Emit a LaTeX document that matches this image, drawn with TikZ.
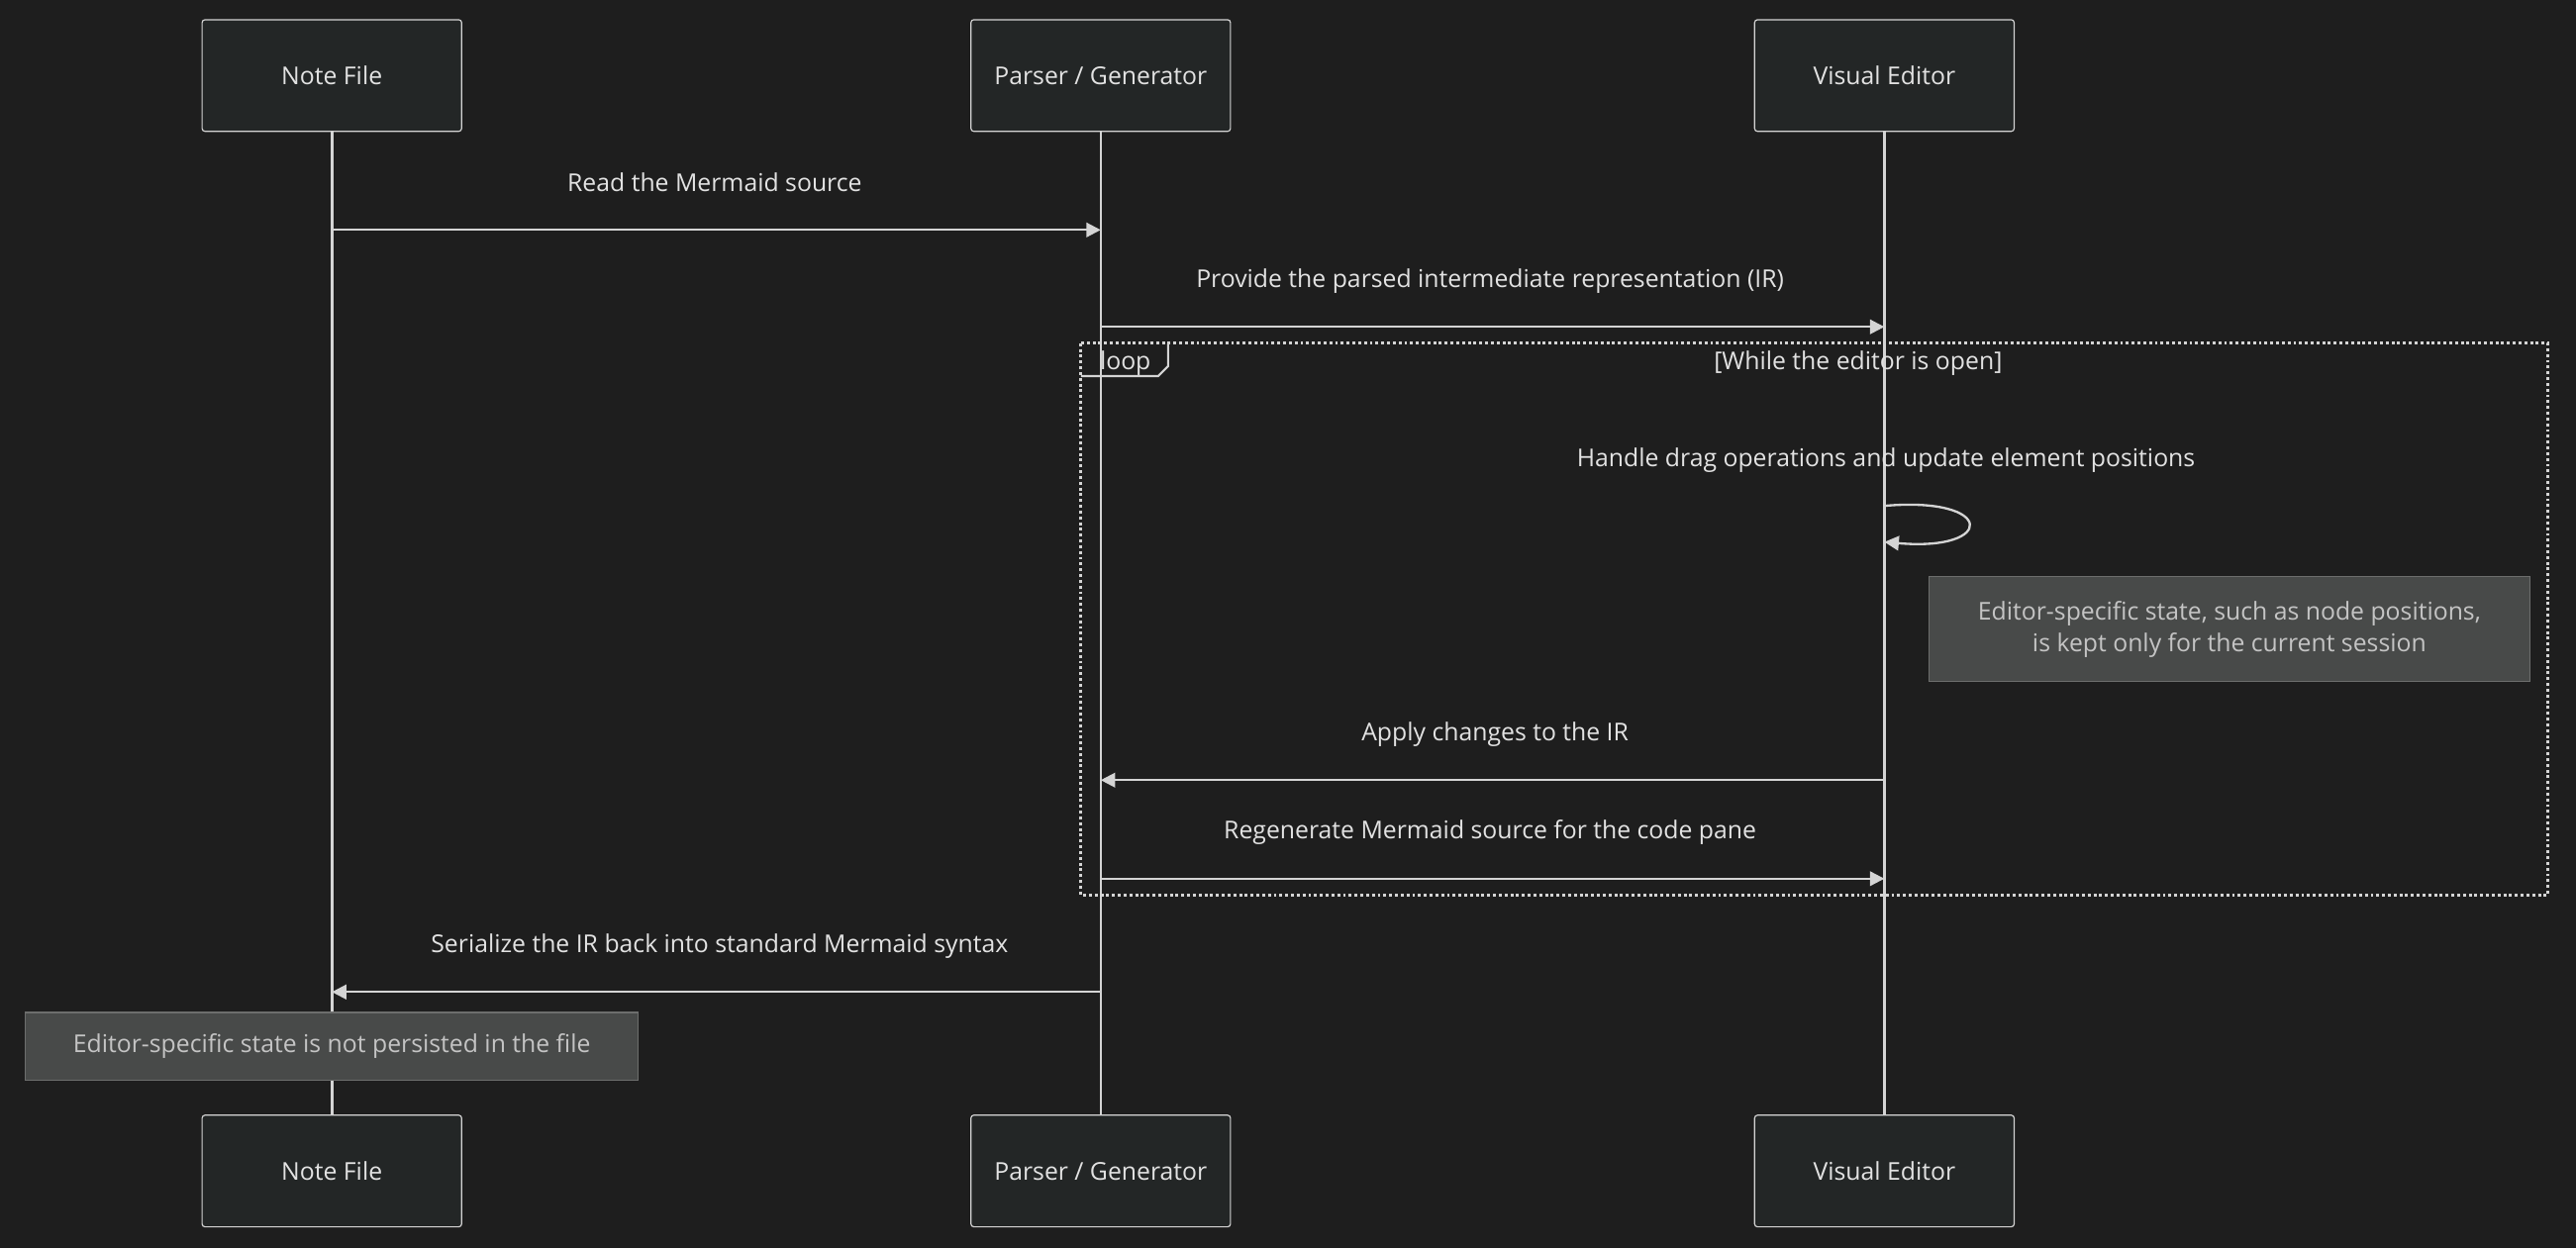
\documentclass[tikz,border=0pt]{standalone}
\usepackage{fontspec}
\setmainfont{Open Sans}
\usetikzlibrary{arrows.meta,positioning,calc}
\definecolor{seqbg}{HTML}{1E1E1E}
\definecolor{seqline}{HTML}{D4D4D4}
\definecolor{seqbox}{HTML}{232626}
\definecolor{seqnote}{HTML}{484A49}
\definecolor{seqtext}{HTML}{E2E2E2}
\definecolor{notetext}{HTML}{C4C4C4}

\begin{document}
\begin{tikzpicture}[x=0.02cm,y=-0.02cm,
    actor/.style={draw=seqline, fill=seqbox, rounded corners=1pt, minimum width=3.16cm, minimum height=1.36cm, text=seqtext, font=\fontsize{8.5}{10}\selectfont},
    life/.style={seqline, line width=0.9pt},
    msg/.style={seqline, line width=0.8pt, -{Triangle[length=5pt,width=5pt]}},
    lbl/.style={text=seqtext, font=\fontsize{8.5}{10}\selectfont},
    note/.style={fill=seqnote, draw=seqnote!80!white, text=notetext, font=\fontsize{8.5}{11}\selectfont, align=center, inner sep=0pt}]
    % Background
    \fill[seqbg] (0,0) rectangle (1568,760);

    % Actors top and bottom
    \node[actor] (fileT) at (202,46) {Note File};
    \node[actor] (parT) at (670,46) {Parser / Generator};
    \node[actor] (edT) at (1147,46) {Visual Editor};
    \node[actor] (fileB) at (202,713) {Note File};
    \node[actor] (parB) at (670,713) {Parser / Generator};
    \node[actor] (edB) at (1147,713) {Visual Editor};

    % Lifelines
    \draw[life] (fileT) -- (fileB);
    \draw[life] (parT) -- (parB);
    \draw[life] (edT) -- (edB);

    % Messages
    \coordinate (m1a) at (202,140); \coordinate (m1b) at (670,140);
    \draw[msg] (m1a) -- (m1b);
    \node[lbl] (l1) at (435,111) {Read the Mermaid source};
    \coordinate (m2a) at (670,199); \coordinate (m2b) at (1147,199);
    \draw[msg] (m2a) -- (m2b);
    \node[lbl] (l2) at (907,171) {Provide the parsed intermediate representation (IR)};

    % Loop frame
    \draw[seqline, densely dotted, line width=1pt] (658,209) rectangle (1551,545);
    \draw[seqline, line width=0.7pt] (658,229) -- (705,229) -- (711,223) -- (711,209);
    \node[lbl] (lp) at (685,221) {loop};
    \node[lbl] (cond) at (1131,221) {[While the editor is open]};

    % Self message
    \node[lbl] (l3) at (1148,280) {Handle drag operations and update element positions};
    \coordinate (s1) at (1147,308); \coordinate (s2) at (1147,330);
    \draw[msg] (s1) .. controls (1215,302) and (1215,336) .. (s2);

    \node[note, minimum width=7.32cm, minimum height=1.28cm] (n1) at (1357,383)
        {Editor-specific state, such as node positions,\\is kept only for the current session};

    \coordinate (m4a) at (1147,475); \coordinate (m4b) at (670,475);
    \draw[msg] (m4a) -- (m4b);
    \node[lbl] (l4) at (910,447) {Apply changes to the IR};
    \coordinate (m5a) at (670,535); \coordinate (m5b) at (1147,535);
    \draw[msg] (m5a) -- (m5b);
    \node[lbl] (l5) at (907,507) {Regenerate Mermaid source for the code pane};

    \coordinate (m6a) at (670,604); \coordinate (m6b) at (202,604);
    \draw[msg] (m6a) -- (m6b);
    \node[lbl] (l6) at (438,576) {Serialize the IR back into standard Mermaid syntax};

    \node[note, minimum width=7.46cm, minimum height=0.82cm] (n2) at (202,637)
        {Editor-specific state is not persisted in the file};
\end{tikzpicture}
\end{document}
